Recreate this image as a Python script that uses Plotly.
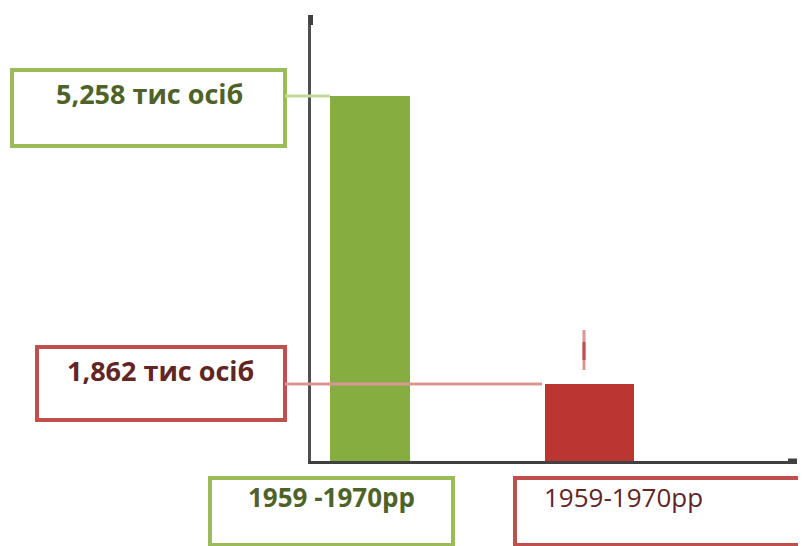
import plotly.graph_objects as go

# ---- data ----
categories = ["1959 -1970рр", "1959-1970рр"]
values = [5.258, 1.862]            # тис осіб
value_labels = ["5,258 тис осіб", "1,862 тис осіб"]
bar_colors = ["#86ad3f", "#bb3633"]
bar_widths = [0.3645, 0.4055]
light_colors = ["#9bbb59", "#c0504d"]
line_colors = ["#c3d69b", "#d99694"]
text_colors = ["#4f6228", "#632523"]

# page has an 8px body margin; compensate so the figure lands at the reference pixels
OFF = 8
W, H = 806 - OFF, 546 - OFF
L, T = 311 - OFF, 15 - OFF
B = H - (461 - OFF)
R = W - (797 - OFF)
PW, PH = W - L - R, H - T - B

def px(xpix):
    return (xpix - OFF - L) / PW

def py(ypix):
    return (H - B - (ypix - OFF)) / PH

fig = go.Figure()
fig.add_trace(go.Bar(
    x=categories, y=values, width=bar_widths,
    marker=dict(color=bar_colors, line=dict(width=0)),
    hoverinfo="skip", showlegend=False,
))

shapes = []
annotations = []

# value boxes (left)
val_boxes = [(12, 285, 70, 146, 149, 94), (37, 285, 347, 420, 160, 370)]
for i, (x0, x1, y0, y1, tx, ty) in enumerate(val_boxes):
    shapes.append(dict(type="rect", xref="paper", yref="paper",
                       x0=px(x0), x1=px(x1), y0=py(y0), y1=py(y1),
                       line=dict(color=light_colors[i], width=4), layer="above"))
    annotations.append(dict(xref="paper", yref="paper", x=px(tx), y=py(ty),
                            text="<b>" + value_labels[i] + "</b>", showarrow=False,
                            font=dict(family="Open Sans", size=27, color=text_colors[i]),
                            xanchor="center", yanchor="middle"))

# connector lines from boxes to bar tops
conn_ends = [330, 542]
for i, v in enumerate(values):
    shapes.append(dict(type="line", xref="paper", yref="y",
                       x0=px(285), x1=px(conn_ends[i]), y0=v, y1=v,
                       line=dict(color=line_colors[i], width=3), layer="above"))

# category boxes (bottom)
cat_boxes = [(210, 453, 478, 545, 331, True), (515, 830, 478, 545, 623, False)]
for i, (x0, x1, y0, y1, tx, bold) in enumerate(cat_boxes):
    shapes.append(dict(type="rect", xref="paper", yref="paper",
                       x0=px(x0), x1=px(x1), y0=py(y0), y1=py(y1),
                       line=dict(color=light_colors[i], width=4), layer="above"))
    txt = "<b>" + categories[i] + "</b>" if bold else categories[i]
    annotations.append(dict(xref="paper", yref="paper", x=px(tx), y=py(497),
                            text=txt, showarrow=False,
                            font=dict(family="Open Sans", size=26, color=text_colors[i]),
                            xanchor="center", yanchor="middle"))

# small mark above red bar
shapes.append(dict(type="line", xref="paper", yref="paper",
                   x0=px(584), x1=px(584), y0=py(330), y1=py(370),
                   line=dict(color="#d99694", width=3)))
shapes.append(dict(type="line", xref="paper", yref="paper",
                   x0=px(584), x1=px(584), y0=py(342), y1=py(360),
                   line=dict(color="#c0504d", width=3)))
# axis end caps
shapes.append(dict(type="line", xref="paper", yref="paper",
                   x0=px(311), x1=px(311), y0=py(15), y1=py(25),
                   line=dict(color="#404040", width=4)))
shapes.append(dict(type="line", xref="paper", yref="paper",
                   x0=px(788), x1=px(797), y0=0, y1=0,
                   line=dict(color="#404040", width=5)))

fig.update_layout(
    width=W, height=H,
    margin=dict(l=L, r=R, t=T, b=B),
    paper_bgcolor="white", plot_bgcolor="white",
    bargap=0,
    shapes=shapes, annotations=annotations,
    xaxis=dict(type="category", range=[-0.2688, 1.9453],
               showticklabels=False, showgrid=False, zeroline=False,
               showline=True, linecolor="#404040", linewidth=3, ticks=""),
    yaxis=dict(range=[0.954, 6.213], showticklabels=False, showgrid=False,
               zeroline=False, showline=True, linecolor="#505050", linewidth=3,
               ticks=""),
)

fig.write_html("out.html")
